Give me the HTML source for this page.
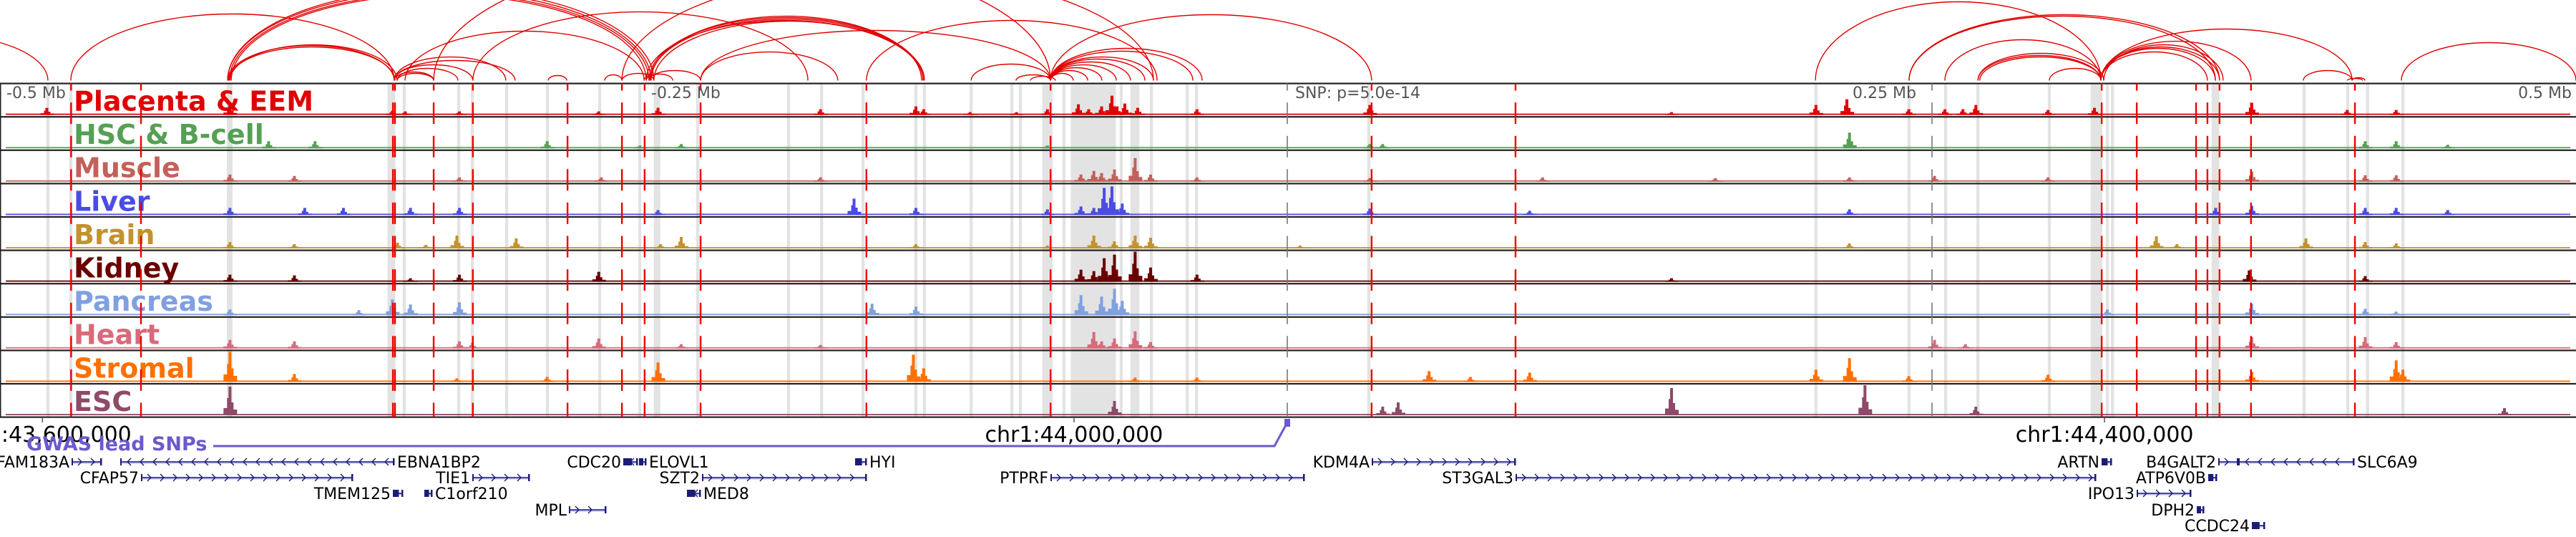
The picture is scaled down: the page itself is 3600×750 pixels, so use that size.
<!DOCTYPE html>
<html><head><meta charset="utf-8"><style>
html,body{margin:0;padding:0;background:#fff;}
svg{display:block;}
</style></head><body>
<svg id="chart" width="3600" height="750" viewBox="0 0 3600 750" xmlns="http://www.w3.org/2000/svg">
<g id="arcs"></g>
<g id="hl"></g>
<g id="tracks"></g>
<g id="labels"></g>
<g id="vlines"></g>
<g id="axis"></g>
<g id="genes"></g>
</svg>
<script>
// ---- data (positions in kb relative to lead SNP) ----
const arcStart=[-568.5,-471.7,-410.9,-410.9,-410.2,-409.5,-410.9,-410.5,-410.0,-346.3,-345.2,-346.3,-346.3,-345.2,-346.3,-331.0,-342.1,-315.8,-286.6,-264.7,-249.4,-247.5,-248.6,-258.0,-247.5,-247.0,-246.7,-248.6,-245.6,-227.5,-227.5,-258.0,-163.2,-122.6,-105.2,-99.6,-91.8,-91.8,-91.8,-91.8,-91.8,-91.8,-91.8,-91.8,-91.8,-91.8,204.8,241.1,241.1,255.0,267.8,267.8,268.5,295.5,315.5,315.5,316.6,315.5,315.5,315.5,394.0,412.9,411.0,432.0];
const arcEnd=[-480.6,-346.3,-246.7,-245.6,-247.5,-248.6,-346.3,-346.0,-345.2,-331.0,-331.0,-315.8,-303.0,-321.6,-299.4,-91.8,-249.4,-185.9,-279.4,-258.0,-245.6,-227.5,-238.3,-245.6,-141.2,-141.2,-141.8,-140.7,-141.2,-174.3,-91.8,-51.9,-50.5,-91.8,-91.8,-89.9,-83.0,-77.4,-71.9,-66.3,-60.8,-55.2,-51.9,-36.6,-33.0,32.7,315.5,359.9,361.5,315.5,315.5,316.6,315.5,315.5,359.9,361.5,362.9,356.8,373.7,412.9,412.9,417.9,417.0,499.7];
const arcScore=[65,93,125,128,122,120,49,47,50,12,10,22,33,17,28,177,69,96,7,8,6,14,9,10,88,86,90,84,83,40,70,150,84,23,8,6,10,14,18,22,26,30,33,41,45,92,110,90,92,57,35,38,33,17,45,47,50,40,55,72,14,4,3,53];
const redSnps=[-471.6,-444.5,-346.8,-346.0,-331.0,-315.8,-279.1,-258.0,-249.2,-227.5,-163.2,-91.8,32.7,88.5,315.8,329.4,352.4,356.8,361.5,373.7,414.0];
const greyMarks=[0,250];
const hlCenter=[-480.6,-471.7,-410.1,-347.4,-342.4,-321.3,-316.0,-302.7,-286.9,-266.6,-251.1,-244.4,-228.6,-193.4,-180.6,-164.5,-144.0,-140.7,-122.6,-106.8,-103.5,-93.0,-86.6,-75.2,-64.4,-59.1,-52.7,-38.8,-35.2,31.6,205.0,241.1,255.3,267.8,295.5,313.8,318.0,320.0,359.9,394.3,411.2,418.9,432.6];
const hlWidth=[1.2,1.2,2.2,3,1.2,1.2,1.2,1.2,1.2,1.2,1.2,2.5,1.2,1.2,1.2,1.2,1.2,1.2,1.2,1.2,1.2,4,1.2,17.5,1.2,3.5,1.2,1.2,1.2,1.2,1.2,1.2,1.2,1.2,1.2,4.5,1.2,1.2,3,1.2,1.2,1.2,1.2];
const trackNames=["Placenta & EEM","HSC & B-cell","Muscle","Liver","Brain","Kidney","Pancreas","Heart","Stromal","ESC"];
const trackColors=["#e00000","#55a055","#c4605a","#4b4be6","#c4922c","#6a0000","#80a0e0","#d86a7a","#ff7000","#8e4a68"];
const peaksPlacenta=[[-481,10],[-410,14],[-347,6],[-342,5],[-321,5],[-267,5],[-244,10],[-181,8],[-144,12],[-141,8],[-123,4],[-105,4],[-93,8],[-81,15],[-77,8],[-72,12],[-68,27],[-66,12],[-63,16],[-58,10],[-35,8],[32,14],[149,4],[205,14],[217,22],[241,8],[255,8],[262,8],[267,14],[295,7],[313,10],[374,17],[411,7],[430,7]];
const peaksHSC=[[-395,10],[-377,10],[-287,10],[-251,4],[-235,6],[-93,4],[32,6],[37,6],[218,22],[418,10],[430,10],[450,5]];
const peaksMuscle=[[-410,10],[-385,8],[-321,6],[-266,6],[-181,6],[-80,10],[-75,15],[-72,12],[-67,17],[-59,33],[-53,10],[-35,6],[32,5],[99,6],[166,5],[218,6],[251,8],[295,6],[374,14],[418,9],[430,9]];
const peaksLiver=[[-410,10],[-381,10],[-366,10],[-340,10],[-321,10],[-244,7],[-168,23],[-144,10],[-93,8],[-80,12],[-75,10],[-71,38],[-68,40],[-64,16],[32,9],[94,6],[218,8],[360,10],[374,13],[418,10],[430,10],[450,7]];
const peaksBrain=[[-410,9],[-385,6],[-345,8],[-334,5],[-322,18],[-299,14],[-243,6],[-235,16],[-144,6],[-93,4],[-75,18],[-67,10],[-59,18],[-53,15],[5,4],[218,7],[337,17],[345,6],[395,14],[418,9],[430,7]];
const peaksKidney=[[-410,10],[-385,9],[-340,5],[-321,10],[-267,14],[-80,17],[-75,15],[-71,33],[-67,38],[-59,45],[-53,20],[-35,10],[149,5],[373,16],[418,8]];
const peaksPancreas=[[-410,8],[-360,7],[-347,22],[-340,15],[-321,18],[-161,16],[-144,12],[-80,28],[-72,26],[-67,37],[-64,20],[318,8],[374,16],[418,9],[430,5]];
const peaksHeart=[[-410,12],[-385,10],[-321,10],[-316,8],[-267,14],[-235,6],[-181,5],[-75,23],[-72,10],[-67,14],[-59,24],[-53,9],[251,12],[263,6],[374,16],[418,16],[430,9]];
const peaksStromal=[[-410,43],[-385,11],[-322,5],[-287,7],[-244,27],[-145,38],[-141,19],[-59,6],[-35,6],[55,15],[71,7],[94,13],[205,17],[218,33],[241,8],[295,10],[374,14],[430,30],[432.6,17]];
const peaksESC=[[-410,40],[-67,20],[37,12],[43,18],[149,38],[224,43],[267,12],[472,10]];
const trackPeaks=[peaksPlacenta,peaksHSC,peaksMuscle,peaksLiver,peaksBrain,peaksKidney,peaksPancreas,peaksHeart,peaksStromal,peaksESC];
const axisTickLabels=["-0.5 Mb","-0.25 Mb","SNP: p=5.0e-14","0.25 Mb","0.5 Mb"];
const chromTicks=[[-482.7,"chr1:43,600,000"],[-82.7,"chr1:44,000,000"],[316.9,"chr1:44,400,000"]];

// ---- scales ----
const NS="http://www.w3.org/2000/svg";
const X0=1799, PX_PER_KB=3.604;
function xs(kb){return X0+kb*PX_PER_KB;}
const TOP=116.5, TH=46.6;
function trackTop(i){return TOP+i*TH;}
function mk(tag,attrs,parent){const e=document.createElementNS(NS,tag);for(const k in attrs)e.setAttribute(k,attrs[k]);parent.appendChild(e);return e;}

// arcs
const gA=document.getElementById('arcs');
const clip=mk('clipPath',{id:'arcclip'},document.getElementById('chart'));
mk('rect',{x:0,y:0,width:3600,height:113},clip);
gA.setAttribute('clip-path','url(#arcclip)');
const ARC_BASE=112.5;
for(let i=0;i<arcStart.length;i++){
  const a=xs(arcStart[i]), b=xs(arcEnd[i]), r=(b-a)/2, h=arcScore[i];
  const p=mk('path',{d:`M${a},${ARC_BASE} A${r},${h} 0 0 1 ${b},${ARC_BASE}`,fill:'none',stroke:'#e00000','stroke-width':1.4},gA);
  
  
}

// highlights
const gH=document.getElementById('hl');
for(let i=0;i<hlCenter.length;i++){
  const w=Math.max(hlWidth[i]*PX_PER_KB,4);
  const r=mk('rect',{x:xs(hlCenter[i])-w/2,y:TOP,width:w,height:TH*10,fill:'#e3e3e3'},gH);
  
  
}

// tracks
const gT=document.getElementById('tracks');
const gL=document.getElementById('labels');
for(let t=0;t<10;t++){
  const top=trackTop(t), base=top+TH-2.5;
  const g=mk('g',{},gT);
  
  
  const col=trackColors[t];
  mk('rect',{x:8,y:base-2,width:3584,height:2,fill:col,opacity:0.9},g);
  for(const [kb,v] of trackPeaks[t]){
    const x=xs(kb), h=Math.min(v,42);
    const bar=mk('path',{d:`M${x-9},${base} L${x-9},${base-h*0.25} L${x-4},${base-h*0.25} L${x-4},${base-h*0.6} L${x-2},${base-h*0.6} L${x-2},${base-h} L${x+2},${base-h} L${x+2},${base-h*0.45} L${x+5},${base-h*0.45} L${x+5},${base-h*0.2} L${x+10},${base-h*0.2} L${x+10},${base} Z`,fill:col},g);
    
    
  }
  const lbl=mk('text',{x:103,y:top+38,fill:col,'font-family':'"DejaVu Sans","Liberation Sans",sans-serif','font-weight':'bold','font-size':38},gL);
  lbl.textContent=trackNames[t];
  
  
}
// borders
for(let t=0;t<=10;t++){
  const l=mk('rect',{x:0,y:trackTop(t)-1,width:3600,height:2.2,fill:'#222'},gT);
  
  
}
mk('rect',{x:0,y:TOP,width:1.5,height:TH*10,fill:'#222'},gT);

// vertical dashed lines
const gV=document.getElementById('vlines');
for(const kb of redSnps){
  const l=mk('line',{x1:xs(kb),x2:xs(kb),y1:TOP,y2:TOP+TH*10,stroke:'#ee0000','stroke-width':2.4,'stroke-dasharray':'30 16.6','stroke-dashoffset':20},gV);
  
  
}
for(const kb of greyMarks){
  const l=mk('line',{x1:xs(kb),x2:xs(kb),y1:TOP,y2:TOP+TH*10,stroke:'#777','stroke-width':1.6,'stroke-dasharray':'30 16.6','stroke-dashoffset':20},gV);
  
  
}

// axis labels
const gX=document.getElementById('axis');
const axisPos=[[9,'start'],[910,'start'],[1810,'start'],[2589,'start'],[3594,'end']];
axisTickLabels.forEach((s,i)=>{
  const tx=mk('text',{x:axisPos[i][0],y:137,'text-anchor':axisPos[i][1],fill:'#555','font-family':'"DejaVu Sans","Liberation Sans",sans-serif','font-size':22},gX);
  tx.textContent=s;
  
  
});
chromTicks.forEach(([kb,s])=>{
  const x=xs(kb);
  mk('line',{x1:x,x2:x,y1:583,y2:590,stroke:'#555','stroke-width':1.5},gX);
  const tx=mk('text',{x:x,y:617,'text-anchor':'middle',fill:'#000','font-family':'"DejaVu Sans","Liberation Sans",sans-serif','font-size':30},gX);
  tx.textContent=s;
  
  
});
// GWAS track
const gw=mk('path',{d:`M298,623 L1781,623 L1799,590`,fill:'none',stroke:'#6a5acd','stroke-width':3},gX);


mk('rect',{x:1795,y:585,width:8,height:11,fill:'#6a5acd'},gX);
const gt=mk('text',{x:37,y:629,fill:'#6a5acd','font-family':'"DejaVu Sans","Liberation Sans",sans-serif','font-weight':'bold','font-size':27},gX);
gt.textContent='GWAS lead SNPs';



// genes: [name, x1, x2, row, strand, labelSide]
const genes=[["FAM183A",100,142,0,1,"L"],["EBNA1BP2",168,551,0,-1,"R"],["CDC20",871,891,0,-1,"L"],["ELOVL1",893,903,0,-1,"R"],["HYI",1195,1211,0,-1,"R"],["KDM4A",1917,2118,0,1,"L"],["ARTN",2937,2951,0,1,"L"],["B4GALT2",3100,3128,0,1,"L"],["SLC6A9",3128,3290,0,-1,"R"],
["CFAP57",197,493,1,1,"L"],["TIE1",660,740,1,1,"L"],["SZT2",981,1211,1,1,"L"],["PTPRF",1468,1823,1,1,"L"],["ST3GAL3",2118,2929,1,1,"L"],["ATP6V0B",3086,3098,1,1,"L"],
["TMEM125",549,563,2,1,"L"],["C1orf210",593,604,2,-1,"R"],["MED8",960,979,2,-1,"R"],["IPO13",2986,3062,2,1,"L"],
["MPL",795,847,3,1,"L"],["DPH2",3070,3080,3,1,"L"],["CCDC24",3147,3165,4,1,"L"]];
const rowY=[645,667,689,712,734];
const gG=document.getElementById('genes');
for(const [nm,a,b,row,st,side] of genes){
  const y=rowY[row];
  const g=mk('g',{},gG);
  
  
  mk('line',{x1:a,x2:b,y1:y+1.5,y2:y+1.5,stroke:'#b8b8e0','stroke-width':2},g);
  mk('line',{x1:a,x2:b,y1:y,y2:y,stroke:'#1c1c78','stroke-width':1.6},g);
  mk('rect',{x:a,y:y-5,width:2,height:10,fill:'#1c1c78'},g);
  mk('rect',{x:b-2,y:y-5,width:2.5,height:10,fill:'#1c1c78'},g);
  if(b-a<25) mk('rect',{x:a,y:y-5,width:(b-a)*0.6,height:10,fill:'#1c1c78'},g);
  for(let x=a+12;x<b-6;x+=18){
    mk('path',{d:st>0?`M${x-3},${y-5} L${x+2},${y} L${x-3},${y+5}`:`M${x+3},${y-5} L${x-2},${y} L${x+3},${y+5}`,fill:'none',stroke:'#1c1c78','stroke-width':1.4},g);
  }
  const tx=mk('text',{x:side=="L"?a-3:b+4,y:y+8,'text-anchor':side=="L"?'end':'start',fill:'#000','font-family':'"DejaVu Sans","Liberation Sans",sans-serif','font-size':22},g);
  tx.textContent=nm;
}
</script>
</body></html>
